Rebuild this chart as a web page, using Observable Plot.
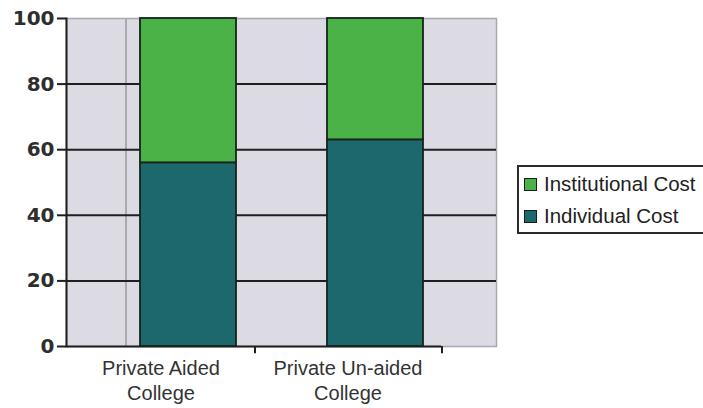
<!DOCTYPE html>
<html>
<head>
<meta charset="utf-8">
<script src="https://cdn.jsdelivr.net/npm/d3@7"></script>
<script src="https://cdn.jsdelivr.net/npm/@observablehq/plot@0.6"></script>
<style>
  body { margin: 0; background: #fff; font-family: "Liberation Sans", Arial, sans-serif; }
  #wrap { position: relative; width: 703px; height: 408px; overflow: hidden; }
  #legend { position: absolute; left: 517px; top: 165px; width: 200px; height: 69px;
            border: 2px solid #2a2a2a; background: #fff; box-sizing: border-box; padding-top: 1px; }
  .item { display: flex; align-items: center; height: 32px; font-size: 20.5px; color: #222; padding-left: 5px; }
  .sw { width: 11px; height: 11px; border: 1.5px solid #1a1a1a; margin-right: 7px; }
</style>
</head>
<body>
<div id="wrap"><div id="chart"></div><div id="legend"></div></div>
<script>
const categories = ["Private Aided\nCollege", "Private Un-aided\nCollege"];
const series = ["Individual Cost", "Institutional Cost"];
const individualCost = [56, 63];
const institutionalCost = [44, 37];
const yTicks = [0, 20, 40, 60, 80, 100];
const colors = ["#1d686c", "#4ab247"];

const data = [];
categories.forEach((c, i) => {
  data.push({cat: c, series: series[0], value: individualCost[i]});
  data.push({cat: c, series: series[1], value: institutionalCost[i]});
});

const chart = Plot.plot({
  width: 703,
  height: 408,
  marginLeft: 66,
  marginRight: 207,
  marginTop: 18,
  marginBottom: 62,
  style: {fontFamily: "'Liberation Sans', Arial, sans-serif", color: "#333", background: "#fff"},
  x: {domain: categories, range: [66, 441], padding: 0, label: null},
  y: {domain: [0, 100], label: null},
  color: {domain: series, range: colors},
  marks: [
    Plot.frame({fill: "#dcdbe3", stroke: "#a8a8b0", strokeWidth: 1.5}),
    Plot.ruleX(categories.slice(0, 1), {x: d => d, dx: -35, stroke: "#a9a9ae", strokeWidth: 2}),
    Plot.ruleY(yTicks.slice(1, -1), {stroke: "#1f1f1f", strokeWidth: 2}),
    Plot.ruleY([0], {x1: () => categories[0], x2: () => categories[1], stroke: "#1f1f1f", strokeWidth: 2}),
    Plot.ruleX(categories, {x: d => d, dx: 94, y1: 0, y2: -2.2, stroke: "#1f1f1f", strokeWidth: 2}),
    Plot.barY(data, {x: "cat", y: "value", fill: "series", stroke: "#16241c", strokeWidth: 1.8,
      insetLeft: 73, insetRight: 18, order: series}),
    Plot.frame({anchor: "left", stroke: "#1f1f1f", strokeWidth: 2}),
    Plot.axisY({ticks: yTicks, tickSize: 9, tickPadding: 3, fontSize: 20, fontWeight: "bold",
      fontFamily: "'DejaVu Sans', sans-serif", stroke: "#1f1f1f", strokeWidth: 2, fill: "#2e2e2e"}),
    Plot.axisX({tickSize: 0, tickPadding: 11, fontSize: 20, lineHeight: 1.25, fill: "#333"})
  ]
});
document.getElementById("chart").append(chart);

const legend = document.getElementById("legend");
[[series[1], colors[1]], [series[0], colors[0]]].forEach(([name, col]) => {
  const it = document.createElement("div");
  it.className = "item";
  it.innerHTML = `<span class="sw" style="background:${col}"></span><span>${name}</span>`;
  legend.append(it);
});
</script>
</body>
</html>
